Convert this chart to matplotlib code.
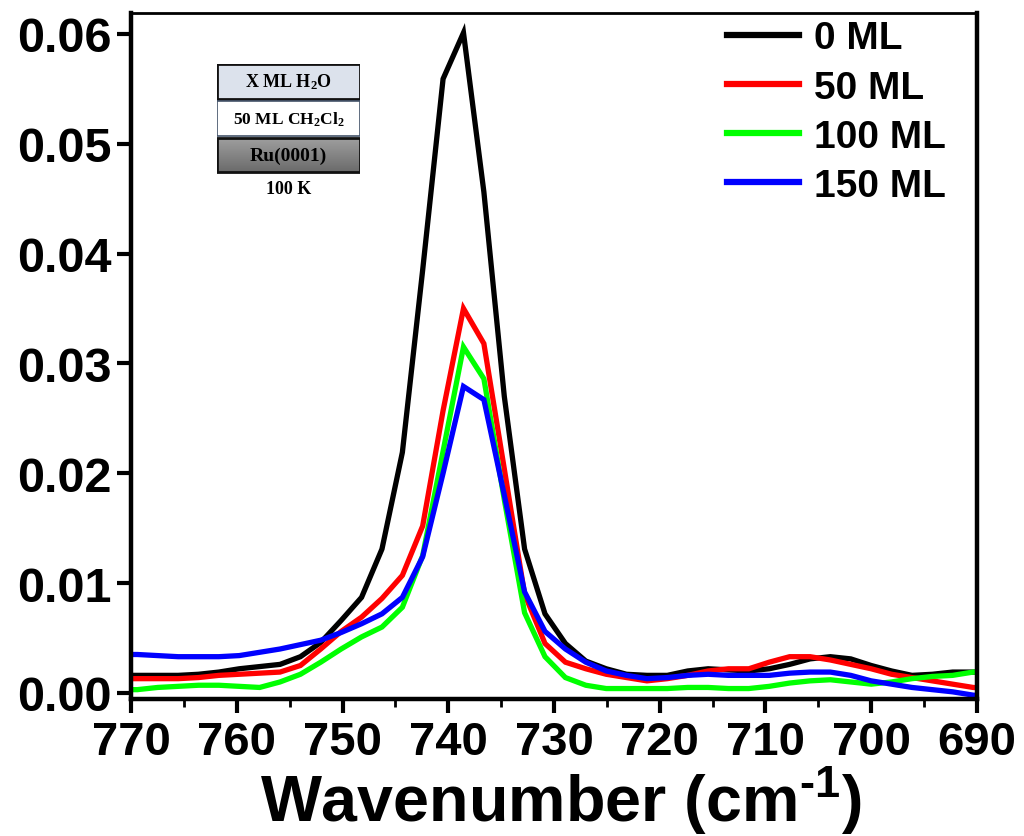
import numpy as np
import matplotlib
matplotlib.use("Agg")
import matplotlib.pyplot as plt
from matplotlib.patches import Rectangle

plt.rcParams['font.family'] = ['Liberation Sans', 'DejaVu Sans']
plt.rcParams['font.weight'] = 'bold'
plt.rcParams['mathtext.default'] = 'regular'

wavenumber = [771.34, 769.41, 767.48, 765.55, 763.62, 761.70, 759.77, 757.84, 755.91, 753.98,
              752.06, 750.13, 748.20, 746.27, 744.34, 742.42, 740.49, 738.56, 736.63, 734.70,
              732.78, 730.85, 728.92, 726.99, 725.06, 723.14, 721.21, 719.28, 717.35, 715.42,
              713.50, 711.57, 709.64, 707.71, 705.78, 703.86, 701.93, 700.00, 698.07, 696.14,
              694.22, 692.29, 690.36, 688.43]

ml_0 = [0.0016, 0.0016, 0.0016, 0.0016, 0.0017, 0.0019, 0.0022, 0.0024, 0.0026, 0.0033,
        0.0046, 0.0066, 0.0087, 0.0131, 0.0219, 0.0385, 0.0559, 0.0601, 0.0456, 0.0270,
        0.0131, 0.0072, 0.0045, 0.0029, 0.0022, 0.0017, 0.0016, 0.0016, 0.0020, 0.0022,
        0.0021, 0.0020, 0.0022, 0.0026, 0.0031, 0.0033, 0.0031, 0.0025, 0.0020, 0.0016,
        0.0017, 0.0019, 0.0019, 0.0019]

ml_50 = [0.0013, 0.0013, 0.0013, 0.0013, 0.0014, 0.0016, 0.0017, 0.0018, 0.0019, 0.0025,
         0.0040, 0.0056, 0.0069, 0.0086, 0.0107, 0.0152, 0.0257, 0.0350, 0.0318, 0.0204,
         0.0090, 0.0045, 0.0028, 0.0022, 0.0017, 0.0014, 0.0011, 0.0013, 0.0016, 0.0020,
         0.0022, 0.0022, 0.0028, 0.0033, 0.0033, 0.0030, 0.0026, 0.0022, 0.0017, 0.0014,
         0.0011, 0.0008, 0.0005, 0.0004]

ml_100 = [0.0003, 0.0003, 0.0005, 0.0006, 0.0007, 0.0007, 0.0006, 0.0005, 0.0010, 0.0017,
          0.0028, 0.0040, 0.0051, 0.0060, 0.0078, 0.0125, 0.0220, 0.0315, 0.0286, 0.0176,
          0.0073, 0.0033, 0.0014, 0.0007, 0.0004, 0.0004, 0.0004, 0.0004, 0.0005, 0.0005,
          0.0004, 0.0004, 0.0006, 0.0009, 0.0011, 0.0012, 0.0010, 0.0008, 0.0010, 0.0013,
          0.0015, 0.0016, 0.0019, 0.0019]

ml_150 = [0.0035, 0.0035, 0.0034, 0.0033, 0.0033, 0.0033, 0.0034, 0.0037, 0.0040, 0.0044,
          0.0048, 0.0055, 0.0063, 0.0072, 0.0087, 0.0124, 0.0200, 0.0279, 0.0267, 0.0180,
          0.0092, 0.0056, 0.0040, 0.0028, 0.0020, 0.0016, 0.0013, 0.0014, 0.0016, 0.0017,
          0.0016, 0.0016, 0.0016, 0.0018, 0.0019, 0.0019, 0.0016, 0.0011, 0.0008, 0.0005,
          0.0003, 0.0001, -0.0002, -0.0003]

labels = ['0 ML', '50 ML', '100 ML', '150 ML']
colors = ['#000000', '#ff0000', '#00ff00', '#0000ff']
xticks = [770, 760, 750, 740, 730, 720, 710, 700, 690]
yticks = [0.00, 0.01, 0.02, 0.03, 0.04, 0.05, 0.06]

fig = plt.figure(figsize=(10.24, 8.37), dpi=100)
ax = fig.add_axes([0.128, 0.1637, 0.826, 0.8196])

for y, lab, c in zip([ml_0, ml_50, ml_100, ml_150], labels, colors):
    ax.plot(wavenumber, y, color=c, lw=3.8, label=lab, solid_joinstyle='miter')

ax.set_xlim(770, 690)
ax.set_ylim(-0.00055, 0.0619)
ax.set_xticks(xticks)
ax.set_xticklabels([str(t) for t in xticks])
ax.set_xticks([765, 755, 745, 735, 725, 715, 705, 695], minor=True)
ax.set_yticks(yticks)
ax.set_yticklabels(['%.2f' % t for t in yticks])

for s in ['left', 'bottom', 'right']:
    ax.spines[s].set_linewidth(3.2)
ax.spines['top'].set_linewidth(2.0)
ax.tick_params(axis='both', which='major', direction='out', length=10, width=3,
               labelsize=34, pad=5)
ax.tick_params(axis='y', which='major', labelsize=35, pad=4)
ax.tick_params(axis='x', which='minor', direction='out', length=6, width=2)
for lab in ax.get_xticklabels() + ax.get_yticklabels():
    lab.set_fontweight('bold')

ax.set_xlabel('Wavenumber (cm$^{\u20101}$)', fontsize=46.5, fontweight='bold', labelpad=0,
              x=0.508)

leg = ax.legend(loc='upper right', frameon=False, fontsize=28, handlelength=1.85,
                handletextpad=0.4, labelspacing=0.34, borderaxespad=0.0,
                bbox_to_anchor=(0.982, 1.012))
for t in leg.get_texts():
    t.set_fontweight('bold')
for h in leg.legend_handles:
    h.set_linewidth(4.5)

# inset schematic
ins = fig.add_axes([217 / 1024, 1 - 200 / 837, 143 / 1024, 135 / 837])
ins.set_xlim(0, 143)
ins.set_ylim(135, 0)
ins.axis('off')
serif = ['Liberation Serif', 'DejaVu Serif']
ins.add_patch(Rectangle((0, 0), 143, 35, facecolor='#dce2ec', edgecolor='#111111', lw=2.0))
ins.add_patch(Rectangle((0, 37), 143, 35, facecolor='#ffffff', edgecolor='#44546a', lw=1.2))
grad = np.linspace(0.62, 0.42, 50).reshape(-1, 1)
ins.imshow(grad, cmap='gray', vmin=0, vmax=1, extent=(0, 143, 108, 74), aspect='auto', zorder=1)
ins.add_patch(Rectangle((0, 74), 143, 34, facecolor='none', edgecolor='#111111', lw=2.0, zorder=2))
ins.text(71.5, 17.5, 'X ML H$_2$O', ha='center', va='center', fontsize=13, family=serif, fontweight='bold')
ins.text(71.5, 54.5, '50 ML CH$_2$Cl$_2$', ha='center', va='center', fontsize=12.5, family=serif, fontweight='bold')
ins.text(71.5, 91, 'Ru(0001)', ha='center', va='center', fontsize=14, family=serif, fontweight='bold', zorder=3)
ins.text(71.5, 124, '100 K', ha='center', va='center', fontsize=13, family=serif, fontweight='bold')

fig.savefig('out.png', dpi=100)
